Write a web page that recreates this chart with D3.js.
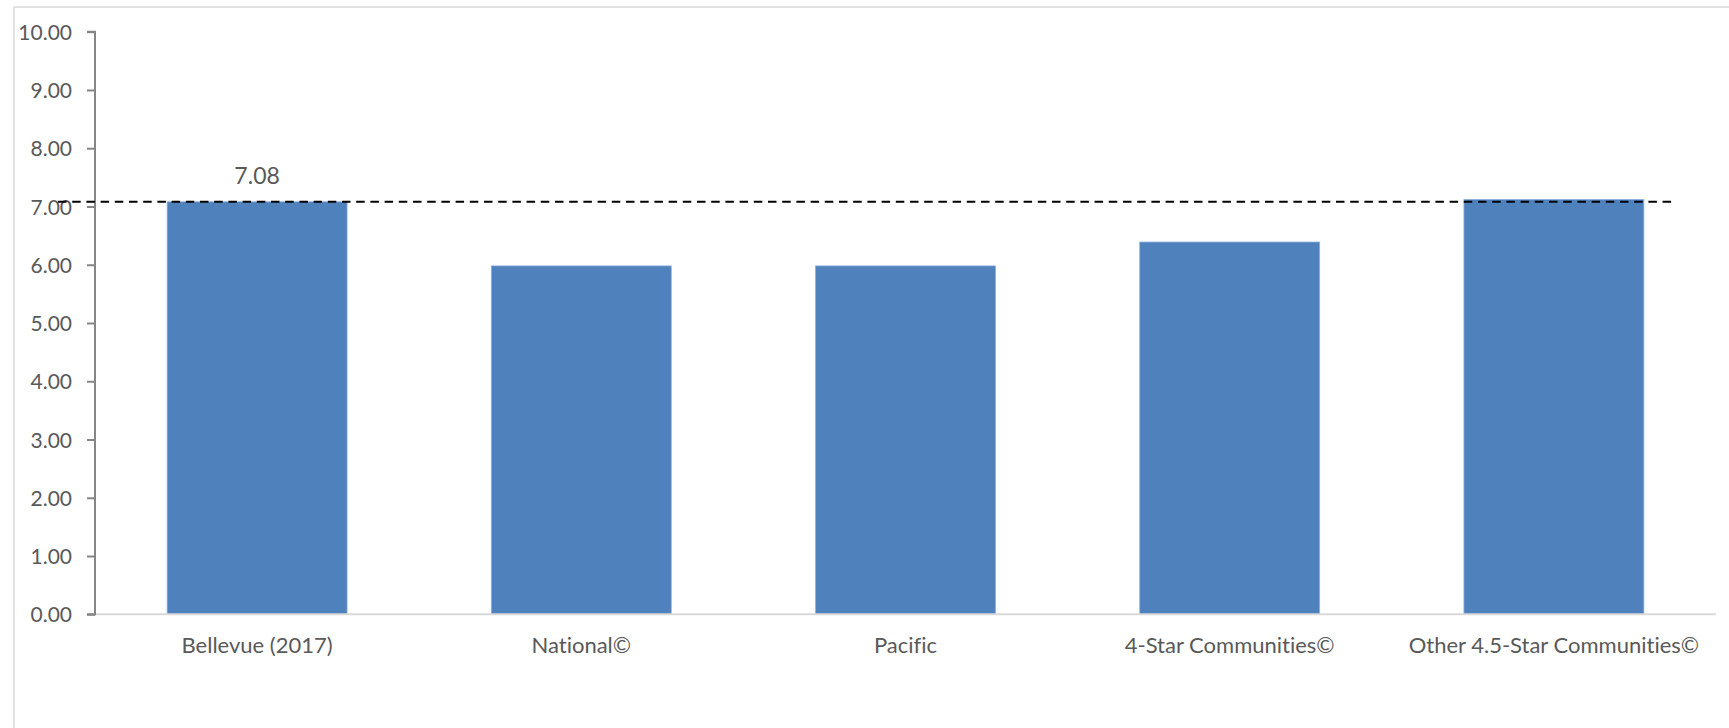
<!DOCTYPE html>
<html>
<head>
<meta charset="utf-8">
<script src="https://cdn.jsdelivr.net/npm/d3@7"></script>
<style>
  html, body { margin: 0; padding: 0; background: #ffffff; }
  svg { display: block; }
  text {
    font-family: "Lato", "Liberation Sans", sans-serif;
    fill: #595959;
    font-variant-ligatures: none;
    font-feature-settings: "liga" 0, "clig" 0;
  }
</style>
</head>
<body>
<svg id="chart" width="1729" height="728"></svg>
<script>
// Chart data
const categories = ["Bellevue (2017)", "National©", "Pacific", "4-Star Communities©", "Other 4.5-Star Communities©"];
const scores = [7.08, 5.98, 5.98, 6.39, 7.12];
const yTicks = [0, 1, 2, 3, 4, 5, 6, 7, 8, 9, 10];
const referenceValue = 7.08;   // Bellevue score, drawn as a dashed reference line
const labelledIndex = 0;       // only Bellevue carries a value label

const W = 1729, H = 728;
const plot = { left: 95, right: 1716, top: 31.7, bottom: 614.3 };

const svg = d3.select("#chart");

// Outer chart frame (top and left edges visible)
svg.append("line").attr("x1", 14).attr("x2", W).attr("y1", 7).attr("y2", 7)
  .attr("stroke", "#d9d9d9").attr("stroke-width", 1.5);
svg.append("line").attr("x1", 14).attr("x2", 14).attr("y1", 7).attr("y2", H)
  .attr("stroke", "#d9d9d9").attr("stroke-width", 1.5);

const x = d3.scaleBand()
  .domain(categories)
  .range([plot.left, plot.right])
  .paddingInner(0.445)
  .paddingOuter(0.2225);

const y = d3.scaleLinear()
  .domain([0, 10])
  .range([plot.bottom, plot.top]);

// Bars
svg.append("g").selectAll("rect")
  .data(scores)
  .join("rect")
  .attr("x", (d, i) => x(categories[i]))
  .attr("width", x.bandwidth())
  .attr("y", d => y(d))
  .attr("height", d => y(0) - y(d))
  .attr("fill", "#4f81bd")
  .attr("stroke", "#8eb0dc")
  .attr("stroke-width", 0.8);

// X axis (category labels)
const xAxis = svg.append("g")
  .attr("transform", `translate(0,${plot.bottom})`)
  .call(d3.axisBottom(x).tickSize(0).tickPadding(0));
xAxis.select(".domain").attr("stroke", "#d9d9d9").attr("stroke-width", 2)
  .attr("d", `M${plot.left},0H${plot.right}`);
xAxis.selectAll("text")
  .attr("dy", null)
  .attr("y", 39)
  .attr("font-size", 22)
  .attr("font-family", "Lato")
  .attr("fill", "#595959");

// Y axis
const yAxis = svg.append("g")
  .attr("transform", `translate(${plot.left},0)`)
  .call(d3.axisLeft(y).tickValues(yTicks).tickSize(8).tickPadding(15)
    .tickFormat(d3.format(".2f")));
yAxis.select(".domain").attr("stroke", "#868686").attr("stroke-width", 2)
  .attr("d", `M-8,${plot.top}H0V${plot.bottom}H-8`);
yAxis.selectAll(".tick line").attr("stroke", "#868686").attr("stroke-width", 2);
yAxis.selectAll("text")
  .attr("dy", null)
  .attr("y", 7.6)
  .attr("font-size", 21)
  .attr("font-family", "Lato")
  .attr("fill", "#595959");

// Value label above the Bellevue bar
svg.append("text")
  .attr("x", x(categories[labelledIndex]) + x.bandwidth() / 2)
  .attr("y", y(scores[labelledIndex]) - 18)
  .attr("text-anchor", "middle")
  .attr("font-size", 23)
  .attr("fill", "#404040")
  .text(d3.format(".2f")(scores[labelledIndex]));

// Dashed reference line at the Bellevue score
svg.append("line")
  .attr("x1", 58).attr("x2", 1676)
  .attr("y1", y(referenceValue)).attr("y2", y(referenceValue))
  .attr("stroke", "#000000")
  .attr("stroke-width", 2)
  .attr("stroke-dasharray", "8.5,5.7");
</script>
</body>
</html>
